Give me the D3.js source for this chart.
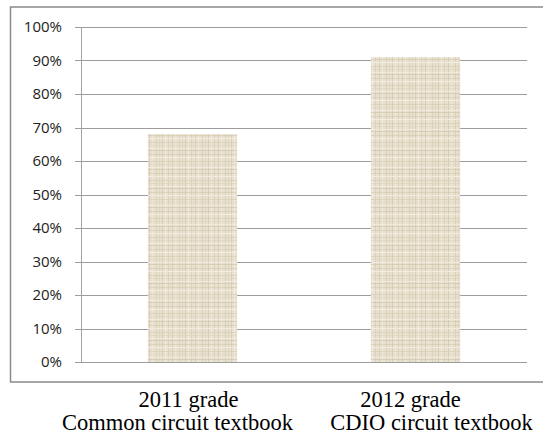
<!DOCTYPE html>
<html>
<head>
<meta charset="utf-8">
<script src="https://cdn.jsdelivr.net/npm/d3@7"></script>
<style>
  body { margin: 0; background: #fff; }
  svg { display: block; }
</style>
</head>
<body>
<svg id="chart"></svg>
<script>
// chart values
var categories = ["2011", "2012"]
var values = [0.68, 0.91]
var labelTop = ["2011 grade", "2012 grade"]
var labelBottom = ["Common circuit textbook", "CDIO circuit textbook"]
var yTicks = [0, 0.1, 0.2, 0.3, 0.4, 0.5, 0.6, 0.7, 0.8, 0.9, 1]

var screen = {width: 543, height: 438}
var plot = {left: 81, right: 527, top: 27, bottom: 362}

var svg = d3.select("#chart")
    .attr("width", screen.width)
    .attr("height", screen.height)

// burlap-like fill for the bars (fixed weave, not data)
var defs = svg.append("defs")
var pat = defs.append("pattern")
    .attr("id", "burlap")
    .attr("patternUnits", "userSpaceOnUse")
    .attr("width", 23)
    .attr("height", 19)
pat.append("rect").attr("width", 23).attr("height", 19).attr("fill", "#e9e1cf")
var weaveV = [[1, "#d6cab0", 0.8], [4, "#f1ebdd", 1], [7, "#d9ceb6", 0.7], [11, "#cfc2a6", 0.6], [14, "#efe8d9", 1], [18, "#d8ccb3", 0.8], [21, "#e0d6c1", 1]]
var weaveH = [[2, "#d4c8ad", 0.6], [5, "#f2ecdf", 1], [9, "#d8cdb5", 0.7], [12, "#dcd2bb", 0.5], [15, "#f0e9db", 1], [17, "#cfc3a8", 0.6]]
weaveV.forEach(function(w) {
    pat.append("rect").attr("x", w[0]).attr("y", 0).attr("width", 1).attr("height", 19)
        .attr("fill", w[1]).attr("opacity", w[2])
})
weaveH.forEach(function(w) {
    pat.append("rect").attr("x", 0).attr("y", w[0]).attr("width", 23).attr("height", 1)
        .attr("fill", w[1]).attr("opacity", w[2])
})

// outer frame (right side runs off the picture)
svg.append("path")
    .attr("d", "M560,7 H10.5 V382 H560")
    .attr("fill", "none")
    .attr("stroke", "#8a8a8a")
    .attr("stroke-width", 1.5)

var xScale = d3.scaleBand()
    .domain(categories)
    .range([plot.left, plot.right])
    .paddingInner(0.6)
    .paddingOuter(0.3)

var yScale = d3.scaleLinear()
    .domain([0, 1])
    .range([plot.bottom, plot.top])

// gridlines
svg.append("g")
    .selectAll("line")
    .data(yTicks)
    .enter()
    .append("line")
    .attr("x1", plot.left - 6)
    .attr("x2", plot.right)
    .attr("y1", function(d) { return Math.round(yScale(d)) + 0.5 })
    .attr("y2", function(d) { return Math.round(yScale(d)) + 0.5 })
    .attr("stroke", "#9d9d9d")
    .attr("stroke-width", 1)

// value axis line
svg.append("line")
    .attr("x1", plot.left + 0.5)
    .attr("x2", plot.left + 0.5)
    .attr("y1", plot.top)
    .attr("y2", plot.bottom)
    .attr("stroke", "#a3a3a3")

// y labels
var yAxis = d3.axisLeft(yScale)
    .tickValues(yTicks)
    .tickSize(0)
    .tickPadding(19)
    .tickFormat(d3.format(".0%"))

var ax = svg.append("g")
    .attr("transform", "translate(" + plot.left + ",0)")
    .call(yAxis)
ax.select(".domain").remove()
ax.selectAll("text")
    .attr("font-family", "'Open Sans', sans-serif")
    .attr("font-size", 15)
    .attr("fill", "#222")

// bars
svg.append("g")
    .selectAll("rect")
    .data(values)
    .enter()
    .append("rect")
    .attr("x", function(d, i) { return xScale(categories[i]) })
    .attr("width", xScale.bandwidth())
    .attr("y", function(d) { return yScale(d) })
    .attr("height", function(d) { return yScale(0) - yScale(d) })
    .attr("fill", "url(#burlap)")

// category labels below the frame
var topShift = [-4, -5]
var bottomShift = [-15, 16]
var labels = svg.append("g")
    .attr("font-family", "'Liberation Serif', 'Times New Roman', serif")
    .attr("font-size", 22.5)
    .attr("fill", "#000")
    .attr("text-anchor", "middle")

labels.selectAll(".top")
    .data(labelTop)
    .enter()
    .append("text")
    .classed("top", true)
    .attr("x", function(d, i) { return xScale(categories[i]) + xScale.bandwidth() / 2 + topShift[i] })
    .attr("y", 407)
    .text(function(d) { return d })

labels.selectAll(".bottom")
    .data(labelBottom)
    .enter()
    .append("text")
    .classed("bottom", true)
    .attr("x", function(d, i) { return xScale(categories[i]) + xScale.bandwidth() / 2 + bottomShift[i] })
    .attr("y", 430)
    .text(function(d) { return d })
</script>
</body>
</html>
